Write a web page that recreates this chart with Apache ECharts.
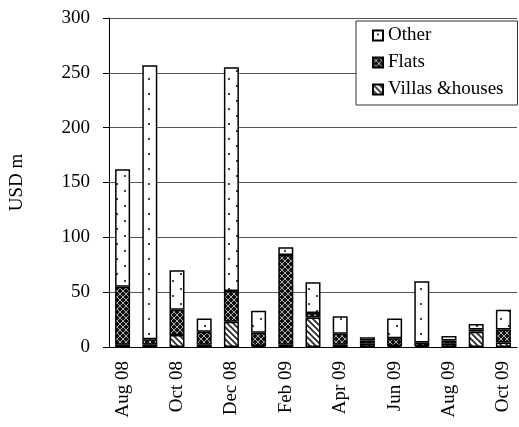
<!DOCTYPE html>
<html>
<head>
<meta charset="utf-8">
<script src="https://cdn.jsdelivr.net/npm/echarts@6/dist/echarts.min.js"></script>
<style>html,body{margin:0;padding:0;background:#fff}#c{width:519px;height:427px}</style>
</head>
<body>
<div id="c"></div>
<script>
var categories = ['Aug 08','Sep 08','Oct 08','Nov 08','Dec 08','Jan 09','Feb 09','Mar 09','Apr 09','May 09','Jun 09','Jul 09','Aug 09','Sep 09','Oct 09'];
var villas = [2, 2, 11, 2, 23, 1, 2, 27, 2, 3, 1, 1, 3, 14, 4];
var flats  = [53, 5, 23, 12, 28, 12, 82, 4, 10, 3, 7, 3, 3, 2, 12];
var other  = [107, 250, 36, 12, 204, 20, 7, 28, 16, 3, 18, 56, 4, 5, 18];
var yTicks = [0, 50, 100, 150, 200, 250, 300];

function mk(w, h, draw) {
  var c = document.createElement('canvas');
  c.width = w; c.height = h;
  var g = c.getContext('2d');
  draw(g, w, h);
  return c;
}
var flatsPat = mk(6, 6, function (g, w, h) {
  g.fillStyle = '#111'; g.fillRect(0, 0, w, h);
  g.strokeStyle = '#b0b0b0'; g.lineWidth = 1;
  g.beginPath();
  g.moveTo(0, 0); g.lineTo(w, h);
  g.moveTo(w, 0); g.lineTo(0, h);
  g.stroke();
});
var villasPat = mk(6, 6, function (g, w, h) {
  g.fillStyle = '#fff'; g.fillRect(0, 0, w, h);
  g.strokeStyle = '#222'; g.lineWidth = 1.6;
  g.beginPath();
  g.moveTo(-1, -1); g.lineTo(w + 1, h + 1);
  g.moveTo(-1, h - 1); g.lineTo(1, h + 1);
  g.moveTo(w - 1, -1); g.lineTo(w + 1, 1);
  g.stroke();
});
var otherPat = mk(16, 15, function (g, w, h) {
  g.fillStyle = '#fff'; g.fillRect(0, 0, w, h);
  g.fillStyle = '#444';
  g.fillRect(4, 3, 2, 2);
  g.fillRect(12, 10, 2, 2);
});

var font = 'Liberation Serif, Times New Roman, serif';
function barStyle(pat) {
  return { color: { image: pat, repeat: 'repeat' }, borderColor: '#000', borderWidth: 1.5 };
}

var chart = echarts.init(document.getElementById('c'), null, { renderer: 'canvas' });
chart.setOption({
  animation: false,
  backgroundColor: '#fff',
  grid: { left: 107, right: 2, top: 18, bottom: 80, containLabel: false },
  legend: {
    data: ['Other', 'Flats', 'Villas &houses'],
    orient: 'vertical',
    left: 356, top: 21,
    padding: [5, 14, 6, 16],
    itemWidth: 10, itemHeight: 10, itemGap: 8,
    borderColor: '#333', borderWidth: 1,
    backgroundColor: '#fff',
    icon: 'rect',
    textStyle: { fontFamily: font, fontSize: 19, color: '#000', lineHeight: 19 }
  },
  xAxis: {
    type: 'category',
    data: categories,
    axisLine: { lineStyle: { color: '#000', width: 1 } },
    axisTick: { interval: 1, length: 6, lineStyle: { color: '#000' } },
    axisLabel: { interval: 1, rotate: 90, margin: 14, fontFamily: font, fontSize: 19, color: '#000' }
  },
  yAxis: {
    type: 'value',
    min: 0, max: 300, interval: 50,
    name: 'USD m',
    nameLocation: 'middle',
    nameGap: 82,
    nameTextStyle: { fontFamily: font, fontSize: 19, color: '#000' },
    axisLine: { show: true, lineStyle: { color: '#000', width: 1 } },
    axisTick: { show: true, length: 6, lineStyle: { color: '#000' } },
    axisLabel: {
      margin: 19, fontFamily: font, fontSize: 19, color: '#000',
      formatter: function (v) { return yTicks.indexOf(v) >= 0 ? String(v) : ''; }
    },
    splitLine: { show: true, lineStyle: { color: '#555', width: 1 } }
  },
  series: [
    { name: 'Villas &houses', type: 'bar', stack: 's', barWidth: 15, data: villas, itemStyle: barStyle(villasPat) },
    { name: 'Flats', type: 'bar', stack: 's', barWidth: 15, data: flats, itemStyle: barStyle(flatsPat) },
    { name: 'Other', type: 'bar', stack: 's', barWidth: 15, data: other, itemStyle: barStyle(otherPat) }
  ]
});
</script>
</body>
</html>
